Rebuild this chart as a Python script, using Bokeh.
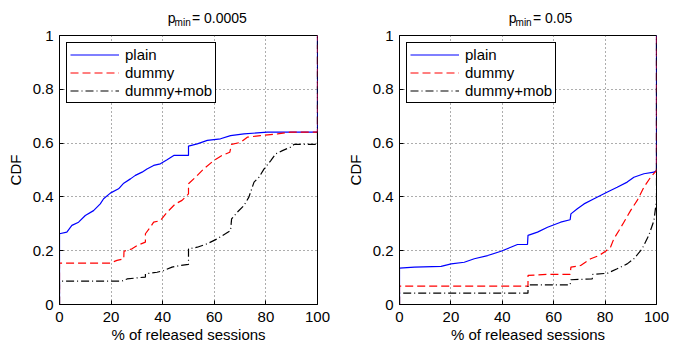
from bokeh.plotting import figure
from bokeh.layouts import row, column
from bokeh.models import Range1d, FixedTicker, NumeralTickFormatter, Label
from bokeh.embed import file_html
from bokeh.resources import INLINE

FONT = "Liberation Sans"

series_names = ["plain", "dummy", "dummy+mob"]
x_ticks = [0, 20, 40, 60, 80, 100]
y_ticks = [0, 0.2, 0.4, 0.6, 0.8, 1]
title_sym = "p"
title_sub = "min"
title_vals = ["= 0.0005", "= 0.05"]
x_label = "% of released sessions"
y_label = "CDF"

# ---- left panel (p_min = 0.0005)
L_plain_x = [0, 0, 2.85, 4.8, 7.4, 10, 13.2, 15.8, 17.1, 19.7, 22.9, 24.9, 27.5, 29.4, 32, 33.9, 36.5, 39.1, 41.7, 44.3, 50, 50, 53.4, 57.3, 62.4, 66.3, 71.5, 80.6, 100, 100]
L_plain_y = [0, 0.263, 0.269, 0.294, 0.306, 0.331, 0.349, 0.374, 0.393, 0.414, 0.43, 0.451, 0.467, 0.48, 0.492, 0.504, 0.517, 0.523, 0.538, 0.554, 0.554, 0.589, 0.597, 0.61, 0.616, 0.628, 0.634, 0.641, 0.641, 1]
L_dummy_x = [0, 0, 19.7, 22.3, 24.9, 25, 28.1, 30, 33.3, 33.3, 35.2, 36.5, 39.1, 41.7, 44.9, 47.5, 50, 50, 52.7, 55.9, 59.8, 63, 66, 66.7, 70.2, 72.8, 77.9, 84.5, 89.6, 100, 100]
L_dummy_y = [0, 0.154, 0.154, 0.164, 0.17, 0.198, 0.207, 0.219, 0.232, 0.263, 0.287, 0.306, 0.312, 0.343, 0.374, 0.387, 0.411, 0.449, 0.473, 0.504, 0.535, 0.554, 0.566, 0.595, 0.603, 0.622, 0.628, 0.634, 0.641, 0.641, 1]
L_mob_x = [0, 0, 24.2, 26.2, 30, 33.3, 33.3, 37.8, 40.4, 43.6, 46.9, 50, 50, 53.4, 57.3, 61.1, 64.3, 66.3, 66.7, 68.9, 71.5, 73.4, 75.4, 77.3, 79.3, 81.9, 83.8, 86.4, 89.6, 90.9, 100, 100]
L_mob_y = [0, 0.087, 0.087, 0.095, 0.099, 0.102, 0.114, 0.12, 0.126, 0.139, 0.145, 0.149, 0.207, 0.213, 0.226, 0.244, 0.263, 0.275, 0.318, 0.343, 0.368, 0.399, 0.455, 0.473, 0.504, 0.535, 0.56, 0.572, 0.585, 0.595, 0.595, 1]

# ---- right panel (p_min = 0.05)
R_plain_x = [0, 0, 5.8, 16.2, 20.1, 25.2, 29.1, 34.3, 39.5, 43.3, 45.9, 49.8, 50, 53.7, 57.6, 62.7, 66.4, 66.7, 69.2, 71.8, 75.7, 80.9, 84.7, 88.6, 91.2, 95.1, 99, 100, 100]
R_plain_y = [0, 0.135, 0.139, 0.142, 0.151, 0.157, 0.17, 0.182, 0.198, 0.213, 0.223, 0.223, 0.257, 0.269, 0.287, 0.306, 0.315, 0.337, 0.356, 0.374, 0.393, 0.418, 0.436, 0.455, 0.473, 0.486, 0.492, 0.498, 1]
R_dummy_x = [0, 0, 50, 50, 57.6, 66.4, 66.7, 70.5, 74.4, 77.6, 80.2, 82.1, 83.4, 85.4, 87.3, 89.9, 92.5, 95.1, 97.7, 100, 100]
R_dummy_y = [0, 0.068, 0.068, 0.108, 0.112, 0.112, 0.139, 0.145, 0.17, 0.182, 0.198, 0.213, 0.244, 0.275, 0.306, 0.349, 0.387, 0.436, 0.473, 0.498, 1]
R_mob_x = [0, 0, 50, 50, 66.4, 66.7, 75, 75.2, 80.9, 84.7, 88.6, 91.2, 94.4, 97, 99, 100, 100]
R_mob_y = [0, 0.042, 0.042, 0.073, 0.073, 0.092, 0.095, 0.112, 0.116, 0.133, 0.151, 0.17, 0.207, 0.257, 0.312, 0.387, 1]

colors = ["#0000ff", "#ff0000", "#000000"]
dashes = ["solid", "8 4", "8 3 1 3"]

HEAD_H = 26
MAIN_H = 322


def header(width, p_x, sub_x, val_x, text):
    h = figure(width=width, height=HEAD_H, output_backend="svg", toolbar_location=None,
               x_range=Range1d(0, width), y_range=Range1d(0, HEAD_H),
               x_axis_type=None, y_axis_type=None,
               min_border_left=0, min_border_right=0, min_border_top=0, min_border_bottom=0)
    h.outline_line_color = None
    h.grid.visible = False
    h.background_fill_color = "white"
    h.border_fill_color = "white"
    h.add_layout(Label(x=p_x, y=8.5, text=title_sym, text_font=FONT, text_font_size="14px",
                       text_align="left", text_baseline="alphabetic", text_color="black"))
    h.add_layout(Label(x=sub_x, y=4.5, text=title_sub, text_font=FONT, text_font_size="10px",
                       text_align="left", text_baseline="alphabetic", text_color="black"))
    h.add_layout(Label(x=val_x, y=8.5, text=text, text_font=FONT, text_font_size="14px",
                       text_align="left", text_baseline="alphabetic", text_color="black"))
    return h


def make(width, left, right, curves):
    p = figure(width=width, height=MAIN_H, output_backend="svg", toolbar_location=None,
               x_range=Range1d(0, 100), y_range=Range1d(0, 1),
               min_border_left=left, min_border_right=right,
               min_border_top=9, min_border_bottom=44)
    p.background_fill_color = "white"
    p.border_fill_color = "white"
    p.outline_line_color = "black"
    p.outline_line_width = 1
    p.outline_line_alpha = 1

    for (xs, ys), name, c, d in zip(curves, series_names, colors, dashes):
        p.line(xs, ys, line_color=c, line_dash=d, line_width=1.2, legend_label=name)

    for ax, ticks in ((p.xaxis, x_ticks), (p.yaxis, y_ticks)):
        ax.ticker = FixedTicker(ticks=ticks)
        ax.major_label_text_font = FONT
        ax.major_label_text_font_size = "15px"
        ax.major_label_text_color = "black"
        ax.axis_line_color = "black"
        ax.major_tick_line_color = "black"
        ax.major_tick_in = 4
        ax.major_tick_out = 0
        ax.minor_tick_line_color = None
        ax.axis_label_text_font = FONT
        ax.axis_label_text_font_size = "15px"
        ax.axis_label_text_font_style = "normal"
        ax.axis_label_text_color = "black"
    p.yaxis.formatter = NumeralTickFormatter(format="0.[0]")
    p.xaxis.major_label_standoff = 7
    p.yaxis.major_label_standoff = 6
    p.xaxis.axis_label = x_label
    p.xaxis.axis_label_standoff = 1
    p.yaxis.axis_label = y_label
    p.yaxis.axis_label_standoff = 6

    for g in (p.xgrid, p.ygrid):
        g.grid_line_color = "#333333"
        g.grid_line_dash = "1 3"
        g.grid_line_alpha = 0.8
    p.xgrid.ticker = FixedTicker(ticks=x_ticks)
    p.ygrid.ticker = FixedTicker(ticks=y_ticks)

    lg = p.legend[0]
    lg.location = "top_left"
    lg.margin = 7
    lg.padding = 3
    lg.spacing = 1
    lg.label_height = 17
    lg.glyph_height = 17
    lg.glyph_width = 49
    lg.label_standoff = 6
    lg.border_line_color = "black"
    lg.border_line_width = 1
    lg.border_line_alpha = 1
    lg.background_fill_alpha = 1
    lg.label_text_font = FONT
    lg.label_text_font_size = "15px"
    lg.label_text_color = "black"
    return p


h1 = header(343, 144, 153, 176, title_vals[0])
p1 = make(343, 59, 26, [(L_plain_x, L_plain_y), (L_dummy_x, L_dummy_y), (L_mob_x, L_mob_y)])
h2 = header(341, 145, 154, 177, title_vals[1])
p2 = make(341, 55, 28, [(R_plain_x, R_plain_y), (R_dummy_x, R_dummy_y), (R_mob_x, R_mob_y)])

layout = row(column(h1, p1), column(h2, p2))
open("out.html", "w").write(file_html(layout, INLINE))
